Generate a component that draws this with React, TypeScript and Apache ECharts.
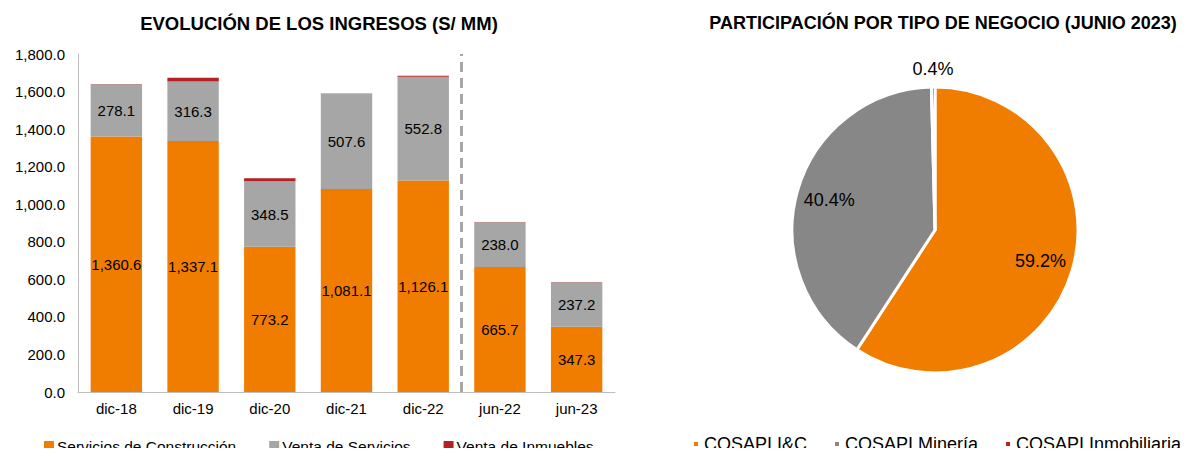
import React, { useEffect, useRef } from "react";
import * as echarts from "echarts";

const categories = ["dic-18", "dic-19", "dic-20", "dic-21", "dic-22", "jun-22", "jun-23"];
const construccion = [1360.6, 1337.1, 773.2, 1081.1, 1126.1, 665.7, 347.3];
const servicios = [278.1, 316.3, 348.5, 507.6, 552.8, 238.0, 237.2];
const inmuebles = [2.0, 20.0, 17.0, 1.0, 5.0, 1.5, 1.0];
const yTicks = { min: 0, max: 1800, interval: 200 };
const separatorPosition = 4.5;

const pieNames = ["COSAPI I&C", "COSAPI Minería", "COSAPI Inmobiliaria"];
const pieValues = [59.2, 40.4, 0.4];

const barLegend = ["Servicios de Construcción", "Venta de Servicios", "Venta de Inmuebles"];

const ORANGE = "#F07D00";
const GRAY_BAR = "#A6A6A6";
const RED = "#B22222";
const GRAY_PIE = "#878787";
const FONT = "'Liberation Sans', Arial, sans-serif";

const fmt = (v: number) =>
  v.toLocaleString("en-US", { minimumFractionDigits: 1, maximumFractionDigits: 1 });

export default function App() {
  const ref = useRef<HTMLDivElement>(null);
  useEffect(() => {
    if (!ref.current) return;
    const chart = echarts.init(ref.current, undefined, { renderer: "svg" });
    const pieColors = [ORANGE, GRAY_PIE, RED];
    const labelStyle = { color: "#000", fontSize: 15, fontFamily: FONT };
    const pieLabelSeries = (name: string, radius: number, showIdx: (i: number) => boolean) => ({
      name,
      type: "pie",
      silent: true,
      center: [935, 230],
      radius,
      startAngle: 90,
      clockwise: true,
      labelLine: { show: false },
      itemStyle: { color: "rgba(0,0,0,0)", borderWidth: 0 },
      emphasis: { disabled: true },
      data: pieNames.map((n, i) => ({
        name: n,
        value: pieValues[i],
        label: {
          show: showIdx(i),
          position: "inside",
          formatter: (p: any) => p.value.toFixed(1) + "%",
          color: "#000",
          fontSize: 18,
          fontFamily: FONT,
        },
      })),
    });
    chart.setOption({
      animation: false,
      textStyle: { fontFamily: FONT },
      title: [
        {
          text: "EVOLUCIÓN DE LOS INGRESOS (S/ MM)",
          left: 314,
          top: 9,
          textAlign: "center",
          textStyle: { fontSize: 18.5, fontWeight: "bold", color: "#000", fontFamily: FONT },
        },
        {
          text: "PARTICIPACIÓN POR TIPO DE NEGOCIO (JUNIO 2023)",
          left: 938,
          top: 9,
          textAlign: "center",
          textStyle: { fontSize: 18, fontWeight: "bold", color: "#000", fontFamily: FONT },
        },
      ],
      legend: [
        {
          data: barLegend,
          left: 39,
          top: 433,
          itemWidth: 10,
          itemHeight: 10,
          itemGap: 33,
          icon: "rect",
          textStyle: { fontSize: 15.5, color: "#000", fontFamily: FONT, padding: [0, 0, 0, -2] },
        },
        {
          data: pieNames,
          left: 692,
          top: 435,
          padding: 0,
          itemWidth: 6,
          itemHeight: 6,
          itemGap: 26,
          icon: "rect",
          textStyle: { fontSize: 18, color: "#000", fontFamily: FONT },
        },
      ],
      grid: { left: 78, right: 578, top: 54, bottom: 64 },
      xAxis: [
        {
          type: "category",
          data: categories,
          axisLine: { lineStyle: { color: "#BFBFBF", width: 1 } },
          axisTick: { show: false },
          axisLabel: { color: "#000", fontSize: 15, margin: 9, fontFamily: FONT },
        },
        {
          type: "value",
          min: -0.5,
          max: 6.5,
          show: false,
        },
      ],
      yAxis: {
        type: "value",
        min: yTicks.min,
        max: yTicks.max,
        interval: yTicks.interval,
        splitLine: { show: false },
        axisLine: { show: true, onZero: false, lineStyle: { color: "#BFBFBF", width: 1 } },
        axisTick: { show: false },
        axisLabel: { color: "#000", fontSize: 15, margin: 13, fontFamily: FONT, formatter: fmt },
      },
      series: [
        {
          name: barLegend[0],
          type: "bar",
          stack: "total",
          data: construccion,
          barCategoryGap: "33%",
          itemStyle: { color: ORANGE },
          label: { show: true, position: "inside", formatter: (p: any) => fmt(p.value), ...labelStyle },
        },
        {
          name: barLegend[1],
          type: "bar",
          stack: "total",
          data: servicios,
          itemStyle: { color: GRAY_BAR },
          label: { show: true, position: "inside", formatter: (p: any) => fmt(p.value), ...labelStyle },
        },
        {
          name: barLegend[2],
          type: "bar",
          stack: "total",
          data: inmuebles,
          itemStyle: { color: RED },
        },
        {
          name: "separator",
          type: "scatter",
          xAxisIndex: 1,
          yAxisIndex: 0,
          data: [],
          markLine: {
            silent: true,
            symbol: "none",
            label: { show: false },
            lineStyle: { color: "#A6A6A6", width: 3, type: [10, 6] },
            data: [{ xAxis: separatorPosition }],
          },
        },
        {
          name: "Participación",
          type: "pie",
          center: [935, 230],
          radius: 143,
          startAngle: 90,
          clockwise: true,
          label: { show: false },
          labelLine: { show: false },
          itemStyle: { borderColor: "#fff", borderWidth: 3 },
          data: pieNames.map((n, i) => ({ name: n, value: pieValues[i], itemStyle: { color: pieColors[i] } })),
        },
        pieLabelSeries("labels-inner", 214, (i) => i < 2),
        pieLabelSeries("labels-outer", 316, (i) => i === 2),
      ],
    });
    return () => chart.dispose();
  }, []);
  return <div ref={ref} style={{ width: 1193, height: 456, margin: -8 }} />;
}
